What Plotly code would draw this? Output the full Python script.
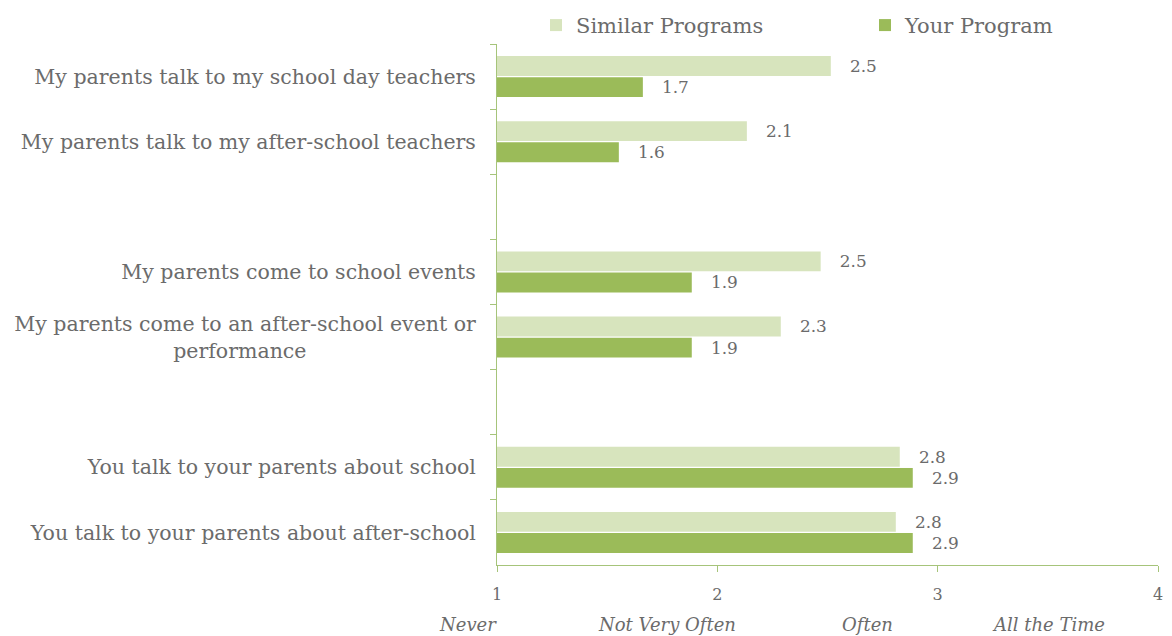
import plotly.graph_objects as go

# Survey items (blank entries leave gaps between item groups)
NBSP = "\u00a0"
categories = [
    "My parents talk to my school day teachers",
    "My parents talk to my after-school teachers",
    " ",
    "My parents come to school events",
    "My parents come to an after-school event or<br>performance" + NBSP * 26,
    "  ",
    "You talk to your parents about school",
    "You talk to your parents about after-school",
]

similar_programs = [2.515, 2.134, None, 2.469, 2.288, None, 2.828, 2.810]
your_program = [1.662, 1.553, None, 1.884, 1.884, None, 2.887, 2.887]

x_ticks = [1, 2, 3, 4]
scale_labels = ["Never", "Not Very Often", "Often", "All the Time"]
scale_label_pos = [-0.044, 0.257, 0.561, 0.834]

FONT = "DejaVu Serif"
GREY = "#6b6b6b"
LIGHT = "#D7E4BD"
DARK = "#9BBB59"
AXIS = "#A6C47A"

label_tpl = NBSP * 3 + "%{x:.1f}"

fig = go.Figure()
fig.add_trace(go.Bar(
    name="Similar Programs", y=categories, x=similar_programs,
    orientation="h", marker=dict(color=LIGHT, line=dict(width=0)),
    texttemplate=label_tpl, textposition="outside",
    textfont=dict(family=FONT, size=17, color=GREY), cliponaxis=False,
))
fig.add_trace(go.Bar(
    name="Your Program", y=categories, x=your_program,
    orientation="h", marker=dict(color=DARK, line=dict(width=0)),
    texttemplate=label_tpl, textposition="outside",
    textfont=dict(family=FONT, size=17, color=GREY), cliponaxis=False,
))

for lab, pos in zip(scale_labels, scale_label_pos):
    fig.add_annotation(
        x=pos, xref="paper", xanchor="center",
        y=0, yref="paper", yshift=-59, yanchor="middle",
        text=f"<i>{lab}</i>", showarrow=False,
        font=dict(family=FONT, size=18, color=GREY),
    )

fig.update_layout(
    width=1172, height=636,
    margin=dict(l=497, r=14, t=44, b=71, autoexpand=False),
    paper_bgcolor="white", plot_bgcolor="white",
    barmode="group", bargap=0.35, bargroupgap=0.06,
    font=dict(family=FONT, color=GREY),
    legend=dict(
        orientation="h", x=0.059, xref="paper", xanchor="left",
        y=1.075, yref="paper", yanchor="top",
        font=dict(family=FONT, size=21, color=GREY),
        entrywidth=284, itemwidth=30, traceorder="normal",
    ),
    showlegend=True,
    xaxis=dict(
        range=[1, 4], tickvals=x_ticks, ticktext=[str(t) for t in x_ticks],
        showgrid=False, zeroline=False,
        showline=True, linecolor=AXIS, linewidth=1,
        ticks="outside", ticklen=6, tickcolor=AXIS,
        tickfont=dict(family=FONT, size=16, color=GREY),
        ticklabelstandoff=9,
    ),
    yaxis=dict(
        categoryorder="array", categoryarray=categories, autorange="reversed",
        showgrid=False, zeroline=False,
        showline=True, linecolor=AXIS, linewidth=1,
        ticks="outside", ticklen=6, tickcolor=AXIS, tickson="boundaries",
        tickfont=dict(family=FONT, size=20.5, color=GREY),
        ticklabelstandoff=16,
    ),
)

fig.write_html("out.html")
